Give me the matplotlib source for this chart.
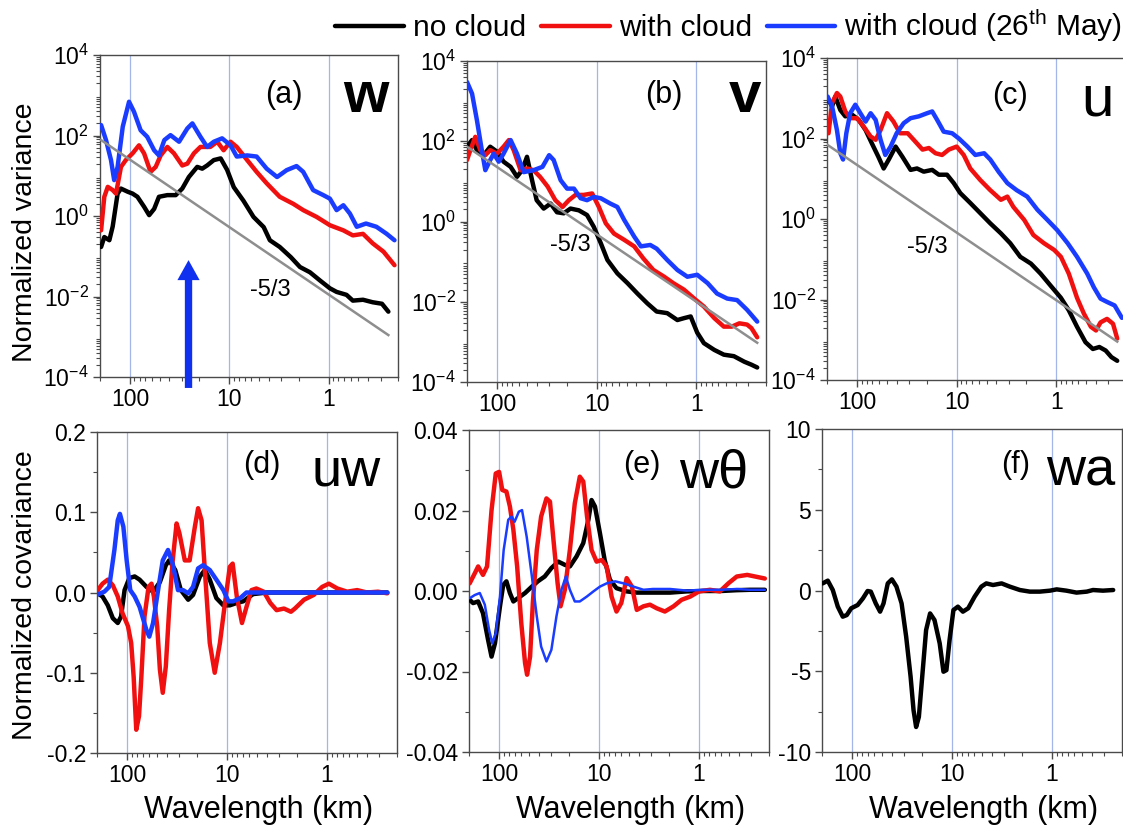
"""Normalized spectra (top) and cospectra (bottom) against wavelength."""

import matplotlib

matplotlib.use("Agg")
import matplotlib.pyplot as plt
from matplotlib.ticker import (FixedLocator, FormatStrFormatter, LogLocator, MultipleLocator,
                               NullFormatter)

plt.rcParams["font.family"] = ["Liberation Sans", "DejaVu Sans"]
plt.rcParams["mathtext.fontset"] = "custom"
plt.rcParams["mathtext.rm"] = "Liberation Sans"
plt.rcParams["mathtext.it"] = "Liberation Sans:italic"
plt.rcParams["mathtext.bf"] = "Liberation Sans:bold"
plt.rcParams["axes.unicode_minus"] = False

# ---- data: wavelength (km) and normalized (co)variance ----
# (a) w
a_black_x = [195, 181, 161, 149, 133, 123, 105, 94, 84, 72, 64, 57, 51, 42, 34.6, 29.7, 25.5, 21,
             18.7, 16.7, 14.3, 12.2, 10.5, 9.0, 7.2, 5.7, 4.5, 3.9, 3.1, 2.4, 1.94, 1.54, 1.22,
             0.97, 0.83, 0.66, 0.57, 0.45, 0.36, 0.29, 0.25]
a_black_y = [0.17, 0.30, 0.25, 0.55, 3.6, 4.8, 4.0, 3.6, 3.0, 1.7, 1.05, 1.5, 3.0, 3.3, 3.3, 4.8,
             9.3, 16.6, 15, 18, 24.5, 27, 14, 5.2, 2.4, 0.95, 0.53, 0.25, 0.17, 0.095, 0.054,
             0.04, 0.025, 0.016, 0.013, 0.011, 0.0079, 0.0083, 0.0072, 0.0066, 0.0042]
a_red_x = [195, 181, 167, 149, 138, 123, 110, 94, 81, 72, 62, 55, 49, 42, 36, 29.7, 26.4, 22.7,
           19.5, 15.5, 13.2, 11.4, 9.7, 8.4, 6.6, 5.3, 4.2, 3.1, 2.26, 1.8, 1.32, 0.97, 0.71,
           0.57, 0.45, 0.36, 0.28, 0.217]
a_red_y = [0.44, 3.0, 5.3, 4.4, 3.6, 16.6, 24.5, 36, 57, 36, 12.5, 16.6, 32, 52, 36, 18, 20, 36,
           52, 52, 70, 43, 70, 52, 24.5, 12.5, 6.5, 3.0, 2.0, 1.4, 0.95, 0.59, 0.44, 0.33, 0.36,
           0.21, 0.13, 0.06]
a_blue_x = [195, 174, 155, 144, 133, 118, 102, 91, 78, 67, 57, 51, 45, 39, 32, 26.4, 23.5, 19.5,
            16.7, 14.3, 11.8, 9.7, 8.4, 6.6, 5.3, 4.2, 3.3, 2.64, 2.1, 1.8, 1.43, 1.13, 0.97,
            0.83, 0.71, 0.61, 0.52, 0.42, 0.33, 0.26, 0.217]
a_blue_y = [182, 77, 24.5, 7.8, 16.6, 166, 690, 390, 135, 93, 43, 32, 77, 102, 70, 150, 200, 93,
            52, 70, 85, 57, 30, 32, 30, 15, 9.3, 13.8, 17.4, 12.5, 4.4, 3.3, 2.7, 1.4, 1.85,
            1.15, 0.54, 0.65, 0.54, 0.36, 0.25]
a_ref_x = [195, 0.25]
a_ref_y = [77, 0.0011]

# (b) v
b_black_x = [200, 178, 159, 136, 117, 100, 86, 73, 63, 56, 50, 44.5, 40, 34, 29, 25, 21.4, 18.3,
             15.1, 12.5, 10.7, 9.1, 7.8, 6.2, 4.9, 3.9, 3.1, 2.5, 1.96, 1.55, 1.33, 1.14, 0.98,
             0.84, 0.66, 0.53, 0.42, 0.33, 0.28, 0.245]
b_black_y = [73, 107, 60, 45, 73, 55, 31, 23, 13, 19, 41, 10.7, 3.4, 2.1, 2.8, 1.7, 1.6, 2.1, 1.9,
             1.45, 0.74, 0.29, 0.11, 0.051, 0.029, 0.016, 0.0091, 0.0057, 0.0052, 0.0035,
             0.0039, 0.0043, 0.0017, 0.00093, 0.00063, 0.00048, 0.00044, 0.00032, 0.00027,
             0.00023]
b_red_x = [200, 185, 165, 147, 131, 117, 100, 86, 76, 68, 58, 50, 43, 37, 31, 26, 22, 19, 16.3,
           13.5, 11.1, 9.5, 8.1, 6.7, 5.3, 4.2, 3.4, 2.7, 2.1, 1.7, 1.33, 1.05, 0.84, 0.66,
           0.53, 0.44, 0.37, 0.31, 0.28, 0.245]
b_red_y = [34, 60, 129, 60, 45, 60, 49, 73, 107, 60, 19, 21, 19, 13, 7.4, 3.4, 2.3, 3.4, 4.6,
           4.6, 5.0, 2.3, 0.9, 0.5, 0.35, 0.24, 0.12, 0.062, 0.042, 0.029, 0.02, 0.012, 0.0076,
           0.0039, 0.0024, 0.0024, 0.0029, 0.0027, 0.0022, 0.0013]
b_blue_x = [200, 178, 159, 142, 131, 117, 108, 96, 86, 73, 63, 54, 43, 35, 30, 27, 23, 19.8,
            16.9, 14.5, 12.5, 10.7, 9.1, 7.3, 6.2, 5.3, 4.2, 3.6, 2.9, 2.5, 1.96, 1.55, 1.23,
            0.98, 0.77, 0.62, 0.49, 0.39, 0.31, 0.245]
b_blue_y = [3000, 1540, 333, 60, 19, 34, 49, 31, 49, 107, 49, 17, 19, 23, 45, 34, 10.7, 6.6,
            6.6, 3.8, 3.4, 4.1, 3.8, 2.8, 2.3, 1.1, 0.42, 0.24, 0.26, 0.21, 0.11, 0.062, 0.042,
            0.047, 0.029, 0.016, 0.012, 0.011, 0.0063, 0.0032]
b_ref_x = [200, 0.245]
b_ref_y = [73, 0.00095]

# (c) u
c_black_x = [193, 178, 165, 147, 131, 112, 96, 82, 71, 61, 54, 48, 41, 35, 29, 25, 21.4, 17.6,
             15.1, 12.5, 10.7, 9.2, 7.3, 5.8, 4.6, 3.6, 2.9, 2.3, 1.8, 1.44, 1.14, 0.90, 0.75,
             0.62, 0.51, 0.43, 0.37, 0.32, 0.28, 0.245]
c_black_y = [910, 630, 1100, 510, 355, 390, 290, 162, 76, 35, 18, 30, 63, 35, 16.6, 18, 15,
             16.6, 12.6, 12.6, 7.8, 4.4, 2.5, 1.4, 0.78, 0.44, 0.25, 0.115, 0.078, 0.044, 0.022,
             0.011, 0.0054, 0.0021, 0.00087, 0.00059, 0.00066, 0.00054, 0.00037, 0.0003]
c_red_x = [193, 178, 159, 147, 131, 117, 100, 86, 73, 65, 58, 50, 43, 37, 31, 27, 22, 19, 16.3,
           14, 12, 10, 8.5, 7.3, 5.8, 4.6, 3.6, 3.1, 2.7, 2.1, 1.7, 1.33, 1.05, 0.90, 0.75,
           0.62, 0.53, 0.45, 0.40, 0.36, 0.31, 0.27, 0.245]
c_red_y = [135, 760, 1350, 1100, 470, 320, 320, 200, 112, 93, 162, 425, 263, 135, 135, 93, 53,
           58, 43, 39, 53, 63, 39, 18, 9.3, 5.2, 3.0, 3.6, 2.0, 0.95, 0.4, 0.25, 0.17, 0.115,
           0.044, 0.011, 0.0045, 0.0021, 0.0017, 0.0027, 0.0033, 0.0025, 0.00107]
c_blue_x = [197, 178, 159, 147, 138, 128, 117, 104, 92.5, 82, 73, 65, 58, 52, 46, 40, 34, 29,
            24, 19.8, 17.6, 15.7, 13.5, 11.1, 9.5, 7.8, 6.5, 5.3, 4.6, 3.8, 3.1, 2.5, 1.96,
            1.55, 1.23, 0.98, 0.77, 0.62, 0.49, 0.42, 0.36, 0.31, 0.26, 0.22]
c_blue_y = [1100, 630, 162, 43, 30, 135, 425, 690, 425, 263, 425, 290, 93, 39, 63, 135, 240,
            320, 355, 425, 470, 290, 148, 135, 100, 63, 39, 43, 30, 15, 7.8, 5.2, 3.6, 1.7,
            0.95, 0.53, 0.25, 0.115, 0.044, 0.02, 0.0105, 0.0087, 0.0071, 0.0035]
c_ref_x = [197, 0.245]
c_ref_y = [69, 0.0009]

# (d) uw
d_black_x = [202, 176, 156, 139, 124, 115, 106, 95, 84, 75, 64, 55, 47, 41, 38, 33, 29, 24.5,
             21.9, 18.7, 16.7, 14.9, 12.8, 10.9, 9.4, 8.0, 6.9, 5.5, 4.0, 0.25]
d_black_y = [0.0, -0.005, -0.016, -0.032, -0.038, -0.03, 0.003, 0.018, 0.02, 0.016, 0.007,
             0.001, 0.013, 0.034, 0.04, 0.028, 0.003, -0.009, -0.003, 0.02, 0.028, 0.016,
             -0.007, -0.016, -0.016, -0.013, -0.011, -0.002, 0.0, 0.0]
d_red_x = [202, 176, 156, 139, 124, 111, 98, 91, 86, 81, 76, 72, 67, 61, 57, 54, 50, 47, 44,
           41, 38, 35, 32, 30, 26.5, 23.7, 21, 19.5, 18, 16.7, 14.9, 13.3, 11.8, 10.5, 9.4,
           8.8, 8.0, 7.1, 6.4, 5.7, 5.1, 4.3, 3.7, 3.2, 2.7, 2.3, 2.1, 1.7, 1.36, 1.12, 0.96,
           0.79, 0.63, 0.50, 0.40, 0.31, 0.25]
d_red_y = [0.001, 0.011, 0.016, 0.009, -0.005, -0.026, -0.042, -0.063, -0.105, -0.171, -0.154,
           -0.105, -0.03, 0.007, 0.011, -0.005, -0.042, -0.096, -0.125, -0.092, -0.022, 0.04,
           0.086, 0.074, 0.04, 0.04, 0.082, 0.105, 0.09, 0.028, -0.063, -0.1, -0.063, -0.013,
           0.032, 0.036, -0.005, -0.038, -0.018, 0.003, 0.005, 0.001, -0.013, -0.022, -0.02,
           -0.024, -0.02, -0.009, -0.003, 0.007, 0.011, 0.005, 0.001, 0.003, 0.0, 0.001, -0.001]
d_blue_x = [202, 169, 151, 134, 124, 118, 109, 101, 93, 84, 75, 64, 60, 55, 49, 44, 39, 35, 31,
            27.6, 24.5, 21.9, 19.5, 17.4, 14.9, 12.8, 10.9, 9.7, 8.7, 7.4, 6.4, 0.25]
d_blue_y = [-0.003, 0.001, 0.007, 0.053, 0.09, 0.098, 0.082, 0.04, 0.003, -0.005, -0.018,
            -0.047, -0.055, -0.038, 0.003, 0.04, 0.053, 0.036, 0.003, 0.003, -0.001, 0.007,
            0.03, 0.034, 0.028, 0.016, 0.003, -0.011, -0.011, -0.007, 0.0, 0.0]

# (e) w-theta
e_black_x = [197, 182, 162, 145, 129, 119, 110, 98, 91, 84.5, 78, 72, 65, 55, 47, 41, 35, 30,
             25.6, 22, 19.6, 16.8, 14.4, 12.8, 11.9, 11.0, 9.8, 8.8, 7.8, 6.7, 5.3, 4.2, 2.9,
             1.95, 1.33, 0.91, 0.6, 0.42, 0.31, 0.22]
e_black_y = [-0.0022, -0.003, -0.0026, -0.0055, -0.0121, -0.0163, -0.013, -0.0038, 0.0015,
             0.0024, -0.0005, -0.0026, -0.0018, -0.0005, 0.0011, 0.0024, 0.0036, 0.0057, 0.0073,
             0.0065, 0.0061, 0.0086, 0.0119, 0.0177, 0.0226, 0.021, 0.0143, 0.0077, 0.0028,
             0.0007, -0.0001, -0.0004, -0.0004, -0.0004, -0.0001, 0.0, 0.0, 0.0002, 0.0003,
             0.0003]
e_red_x = [197, 175, 162, 145, 132, 119, 108, 100, 93, 84.5, 78, 72, 66, 60, 55, 52.5, 49, 46,
           42, 38, 33.6, 31, 28.8, 26, 24.3, 22, 19.6, 17.5, 15.6, 14.4, 13.2, 11.9, 10.6, 9.4,
           8.4, 7.5, 6.7, 6.0, 5.3, 4.7, 4.2, 3.6, 3.1, 2.65, 2.2, 1.8, 1.5, 1.23, 1.0, 0.78,
           0.62, 0.51, 0.42, 0.33, 0.22]
e_red_y = [0.0019, 0.0044, 0.0061, 0.004, 0.0061, 0.0201, 0.0292, 0.0296, 0.0251, 0.0247,
           0.021, 0.0152, 0.0061, -0.008, -0.0179, -0.0208, -0.0163, -0.003, 0.0102, 0.0185,
           0.023, 0.0222, 0.0135, 0.0019, -0.0038, 0.0003, 0.0102, 0.0218, 0.0284, 0.0272,
           0.0185, 0.0102, 0.0073, 0.0077, 0.0061, -0.0014, -0.0051, -0.003, 0.0032, 0.0011,
           -0.0047, -0.0038, -0.0034, -0.0043, -0.0051, -0.0038, -0.0022, -0.0014, -0.0001,
           0.0003, -0.0001, 0.0019, 0.0036, 0.004, 0.0031]
e_blue_x = [197, 175, 156, 139, 126, 117, 108, 98, 90, 81, 75, 70, 63.5, 59, 53, 47, 42, 38,
            33.6, 30, 26.7, 23.8, 21.5, 19.6, 17.5, 15.6, 13.3, 11.4, 9.8, 8.4, 6.9, 5.7,
            4.55, 3.6, 2.9, 1.95, 1.33, 0.91, 0.6, 0.42, 0.31, 0.22]
e_blue_y = [-0.0018, -0.001, -0.0005, -0.0034, -0.0096, -0.013, -0.0105, -0.0014, 0.0102,
            0.0177, 0.0185, 0.0172, 0.0197, 0.0201, 0.0135, 0.0036, -0.0063, -0.0138, -0.0175,
            -0.0146, -0.0063, 0.0003, 0.0036, 0.0003, -0.0026, -0.0026, -0.0014, -0.0001,
            0.0011, 0.0019, 0.0024, 0.0019, 0.0011, 0.0003, 0.0005, 0.0005, 0.0001, 0.0003,
            0.0003, 0.0005, 0.0003, 0.0003]

# (f) wa
f_black_x = [197, 175, 156, 139, 124, 113, 102, 88, 78, 70, 65, 58, 52.5, 48.5, 44, 40, 36, 32,
             28.8, 26, 24.3, 22.9, 21.5, 19.9, 18.2, 16.6, 15, 13.3, 12.2, 11.4, 10.6, 9.7,
             8.75, 7.8, 6.9, 5.95, 5.1, 4.55, 3.9, 3.2, 2.65, 2.1, 1.67, 1.33, 1.05, 0.9, 0.72,
             0.57, 0.45, 0.39, 0.31, 0.245]
f_black_y = [0.44, 0.61, 0.03, -1.0, -1.62, -1.52, -1.1, -0.9, -0.49, -0.03, -0.07, -0.8, -1.31,
             -0.8, 0.44, 0.69, 0.24, -0.8, -2.86, -5.34, -7.41, -8.45, -7.83, -5.34, -2.45,
             -1.42, -1.83, -3.28, -5.03, -4.93, -3.07, -1.21, -1.0, -1.31, -1.1, -0.38, 0.24,
             0.44, 0.34, 0.44, 0.24, 0.03, -0.07, -0.07, -0.01, 0.07, -0.01, -0.13, -0.07, 0.03,
             -0.01, 0.03]

series_labels = ["no cloud", "with cloud", "with cloud (26$^{\\rm th}$ May)"]
wavelength_ticks = [100, 10, 1]
wavelength_ticklabels = ["100", "10", "1"]

BLACK = "#000000"
RED = "#f01010"
BLUE = "#1a3cff"
GRAY = "#8e8e8e"
GRID = "#a3b6ea"
SPINE = "#4a4a4a"

W, H = 1123, 834


def box(left, right, top, bottom):
    """Axes rectangle from pixel edges of the reference picture."""
    return [left / W, 1 - bottom / H, (right - left) / W, (bottom - top) / H]


def px(x, y):
    return x / W, 1 - y / H


def style(ax):
    ax.set_xscale("log")
    ax.set_xlim(200, 0.2)
    ax.xaxis.set_major_locator(FixedLocator(wavelength_ticks))
    ax.set_xticklabels(wavelength_ticklabels)
    ax.xaxis.set_minor_locator(LogLocator(subs=range(2, 10), numticks=50))
    ax.xaxis.set_minor_formatter(NullFormatter())
    for v in wavelength_ticks:
        ax.axvline(v, color=GRID, lw=0.9, zorder=0)
    for s in ax.spines.values():
        s.set_color(SPINE)
        s.set_linewidth(1.0)
    ax.tick_params(which="major", direction="out", length=5, width=1, color=SPINE,
                   labelsize=16.5, pad=3)
    ax.tick_params(which="minor", direction="out", length=3, width=0.8, color=SPINE)


def curve(ax, x, y, color, lw, z):
    ax.plot(x, y, color=color, lw=lw, solid_capstyle="round", solid_joinstyle="round",
            zorder=z)


fig = plt.figure(figsize=(11.23, 8.34), dpi=100)

# ---- top row: spectra ----
top = [
    ("(a)", "w", "bold", box(100, 398, 55, 377), (a_black_x, a_black_y), (a_red_x, a_red_y),
     (a_blue_x, a_blue_y), (a_ref_x, a_ref_y), (284, 95), (366, 97), (270, 290)),
    ("(b)", "v", "bold", box(467, 766, 61, 382), (b_black_x, b_black_y), (b_red_x, b_red_y),
     (b_blue_x, b_blue_y), (b_ref_x, b_ref_y), (664, 95), (745, 97), (570, 245)),
    ("(c)", "u", "normal", box(827, 1126, 58, 380), (c_black_x, c_black_y), (c_red_x, c_red_y),
     (c_blue_x, c_blue_y), (c_ref_x, c_ref_y), (1010, 96), (1097, 100), (927, 247)),
]
handles = []
for tag, var, weight, rect, blk, red, blu, ref, tag_xy, var_xy, slope_xy in top:
    ax = fig.add_axes(rect)
    style(ax)
    ax.set_yscale("log")
    ax.set_ylim(1e-4, 1e4)
    ax.yaxis.set_major_locator(FixedLocator([1e-4, 1e-2, 1, 1e2, 1e4]))
    ax.yaxis.set_minor_locator(LogLocator(subs=range(2, 10), numticks=50))
    ax.yaxis.set_minor_formatter(NullFormatter())
    curve(ax, *blk, BLACK, 3.2, 3)
    curve(ax, *red, RED, 3.2, 4)
    curve(ax, *blu, BLUE, 3.2, 5)
    ax.plot(*ref, color=GRAY, lw=1.8, zorder=6)
    if not handles:
        handles = ax.get_lines()[3:6]
        # blue arrow below panel (a)
        ax.annotate("", xy=(25.7, 0.363), xytext=(25.7, -0.034),
                    xycoords=("data", "axes fraction"), annotation_clip=False,
                    arrowprops=dict(arrowstyle="simple,head_length=0.9,head_width=1.0,tail_width=0.33",
                                    mutation_scale=16, color="#1030f0", lw=0,
                                    shrinkA=0, shrinkB=0))
    fig.text(*px(*tag_xy), tag, fontsize=22, ha="center", va="center")
    fig.text(*px(*var_xy), var, fontsize=42, fontweight=weight, ha="center", va="center")
    fig.text(*px(*slope_xy), "-5/3", fontsize=17, ha="center", va="center")

# ---- bottom row: cospectra ----
bottom = [
    ("(d)", "uw", box(97, 397, 432, 753), (-0.2, 0.2), 0.1, 0.05,
     [(d_black_x, d_black_y, BLACK, 3.2), (d_red_x, d_red_y, RED, 3.2),
      (d_blue_x, d_blue_y, BLUE, 3.2)],
     (262, 465), (346, 472), "%.1f"),
    ("(e)", "w\u03b8", box(469, 769, 430, 752), (-0.04, 0.04), 0.02, 0.01,
     [(e_black_x, e_black_y, BLACK, 3.2), (e_red_x, e_red_y, RED, 3.2),
      (e_blue_x, e_blue_y, BLUE, 1.8)],
     (642, 465), (714, 474), "%.2f"),
    ("(f)", "wa", box(822, 1122, 429, 752), (-10, 10), 5, 2.5,
     [(f_black_x, f_black_y, BLACK, 3.2)],
     (1016, 465), (1081, 472), "%g"),
]
for tag, var, rect, ylim, major, minor, curves, tag_xy, var_xy, fmt in bottom:
    ax = fig.add_axes(rect)
    style(ax)
    ax.set_ylim(*ylim)
    ax.yaxis.set_major_locator(MultipleLocator(major))
    ax.yaxis.set_minor_locator(MultipleLocator(minor))
    ax.yaxis.set_major_formatter(FormatStrFormatter(fmt))
    for z, (x, y, c, lw) in enumerate(curves):
        curve(ax, x, y, c, lw, 3 + z)
    fig.text(*px(*tag_xy), tag, fontsize=22, ha="center", va="center")
    fig.text(*px(*var_xy), var, fontsize=39, ha="center", va="center")
    fig.text(((rect[0] + rect[2] / 2) * W + 12) / W, 1 - 810 / H, "Wavelength (km)",
             fontsize=22, ha="center", va="center")

fig.text(*px(25, 232), "Normalized variance", fontsize=20.5, rotation=90,
         ha="center", va="center")
fig.text(*px(25, 595), "Normalized covariance", fontsize=20.5, rotation=90,
         ha="center", va="center")

fig.legend(handles, series_labels, ncol=3, loc="center right",
           bbox_to_anchor=px(1122, 26), frameon=False, fontsize=21.5,
           handlelength=2.3, handletextpad=0.3, columnspacing=0.5,
           borderpad=0, borderaxespad=0)

fig.savefig("out.png", dpi=100)
